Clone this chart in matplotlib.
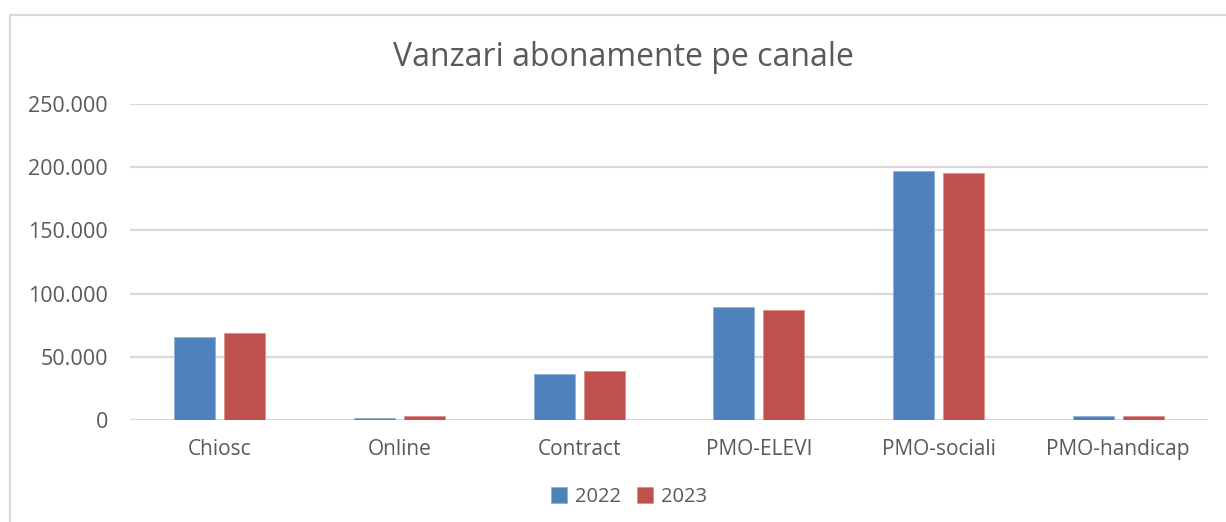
import numpy as np
import matplotlib
matplotlib.use('Agg')
import matplotlib.pyplot as plt
from matplotlib.ticker import FuncFormatter
from matplotlib.patches import Rectangle

# Date
canale = ['Chiosc', 'Online', 'Contract', 'PMO-ELEVI', 'PMO-sociali', 'PMO-handicap']
v2022 = [65900, 1700, 36100, 89600, 196800, 3400]
v2023 = [68600, 3400, 38800, 86800, 195200, 3500]
ani = ['2022', '2023']

plt.rcParams['font.family'] = ['Open Sans', 'DejaVu Sans']

albastru = '#4F81BD'
rosu = '#C0504D'
gri_text = '#595959'
gri_linie = '#D9D9D9'

fig = plt.figure(figsize=(12.26, 5.22), dpi=100)
ax = fig.add_axes([130 / 1226, 1 - 420 / 522, 1078 / 1226, 316 / 522])

# chenarul graficului
fig.patches.append(Rectangle((10 / 1226, -0.1), 1.2, 1.1 - 15 / 522,
                             transform=fig.transFigure, fill=False,
                             edgecolor=gri_linie, linewidth=1.6))

x = np.arange(len(canale))
w = 0.228
d = 0.139
ax.bar(x - d, v2022, w, color=albastru, edgecolor='#8FB0D9', linewidth=0.6, label=ani[0], zorder=3)
ax.bar(x + d, v2023, w, color=rosu, edgecolor='#DC8E8C', linewidth=0.6, label=ani[1], zorder=3)

ax.set_xlim(-0.5, len(canale) - 0.5)
ax.set_ylim(0, 250000)
ax.set_yticks(np.arange(0, 250001, 50000))
ax.yaxis.set_major_formatter(FuncFormatter(lambda v, p: f'{int(v):,}'.replace(',', '.')))
ax.set_xticks(x)
ax.set_xticklabels(canale)

ax.grid(axis='y', color=gri_linie, linewidth=1.6, zorder=0)
for s in ax.spines.values():
    s.set_visible(False)
ax.tick_params(axis='both', length=0, labelcolor=gri_text)
ax.tick_params(axis='y', pad=16, labelsize=15.5)
ax.tick_params(axis='x', pad=14, labelsize=15)

fig.text(623 / 1226, 1 - 57 / 522, 'Vanzari abonamente pe canale', ha='center', va='center',
         fontsize=23, color=gri_text)

fig.legend(loc='center', bbox_to_anchor=(629 / 1226, 1 - 497 / 522), ncol=2, frameon=False,
           fontsize=14.5, labelcolor=gri_text, handlelength=0.8, handleheight=0.8,
           handletextpad=0.4, columnspacing=0.8)

fig.savefig('out.png', dpi=100)
